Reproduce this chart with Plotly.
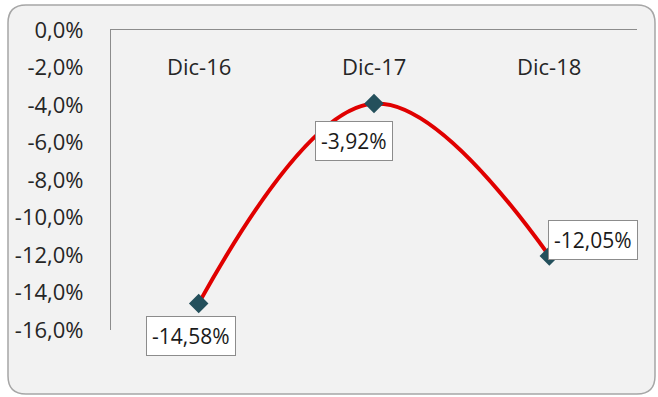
import plotly.graph_objects as go

# data
periodos = ["Dic-16", "Dic-17", "Dic-18"]
variacion = [-14.58, -3.92, -12.05]
etiquetas = ["-14,58%", "-3,92%", "-12,05%"]
y_ticks = [0, -2, -4, -6, -8, -10, -12, -14, -16]
y_ticktext = ["0,0%", "-2,0%", "-4,0%", "-6,0%", "-8,0%", "-10,0%", "-12,0%", "-14,0%", "-16,0%"]

W, H = 658, 397
ml, mr, mt, mb = 111, 21, 30, 67
pw, ph = W - ml - mr, H - mt - mb

def px2paper(x, y):
    return (x - ml) / pw, (H - mb - y) / ph

def rounded_rect(x0, y0, x1, y1, r):
    def p(x, y):
        a, b = px2paper(x, y)
        return f"{a:.5f},{b:.5f}"
    path = (f"M {p(x0 + r, y0)} L {p(x1 - r, y0)} Q {p(x1, y0)} {p(x1, y0 + r)} "
            f"L {p(x1, y1 - r)} Q {p(x1, y1)} {p(x1 - r, y1)} "
            f"L {p(x0 + r, y1)} Q {p(x0, y1)} {p(x0, y1 - r)} "
            f"L {p(x0, y0 + r)} Q {p(x0, y0)} {p(x0 + r, y0)} Z")
    return path

xs = list(range(len(periodos)))

fig = go.Figure()
fig.add_trace(go.Scatter(
    x=xs, y=variacion,
    mode="lines+markers",
    line=dict(color="#e00000", width=4, shape="spline", smoothing=1.1),
    marker=dict(symbol="diamond", size=15, color="#24505c", line=dict(width=0)),
    showlegend=False, hoverinfo="skip",
))

# category labels sit just under the 0% line
for i in range(len(xs)):
    fig.add_annotation(
        x=xs[i], y=px2paper(0, 66)[1], yref="paper", text=periodos[i],
        showarrow=False, yanchor="middle",
        font=dict(family="Open Sans", size=22, color="#262626"),
    )

offsets = [(-8, -33), (-20, -37), (44, 16)]
for i in range(len(xs)):
    fig.add_annotation(
        x=xs[i], y=variacion[i], text=etiquetas[i], showarrow=False,
        xshift=offsets[i][0], yshift=offsets[i][1],
        font=dict(family="Open Sans", size=21, color="#1a1a1a"),
        bgcolor="white", bordercolor="#8c8c8c", borderwidth=1, borderpad=5,
    )

fig.add_shape(
    type="path", xref="paper", yref="paper", layer="below",
    path=rounded_rect(8, 5, 655, 394, 18),
    fillcolor="#f2f2f2", line=dict(color="#a6a6a6", width=1.5),
)

fig.update_xaxes(
    range=[-0.5, 2.5], showticklabels=False, side="top",
    showline=True, linecolor="#8c8c8c", linewidth=1.2,
    showgrid=False, zeroline=False, ticks="",
)
fig.update_yaxes(
    range=[-16, 0], tickvals=y_ticks, ticktext=y_ticktext,
    showline=True, linecolor="#8c8c8c", linewidth=1.2,
    showgrid=False, zeroline=False, ticks="", ticklabelstandoff=22,
    tickfont=dict(family="Open Sans", size=22, color="#262626"),
)
fig.update_layout(
    width=W, height=H,
    margin=dict(l=ml, r=mr, t=mt, b=mb),
    paper_bgcolor="white", plot_bgcolor="rgba(0,0,0,0)",
)

fig.write_html("out.html", config={"displayModeBar": False},
               post_script="document.body.style.margin='0';")
